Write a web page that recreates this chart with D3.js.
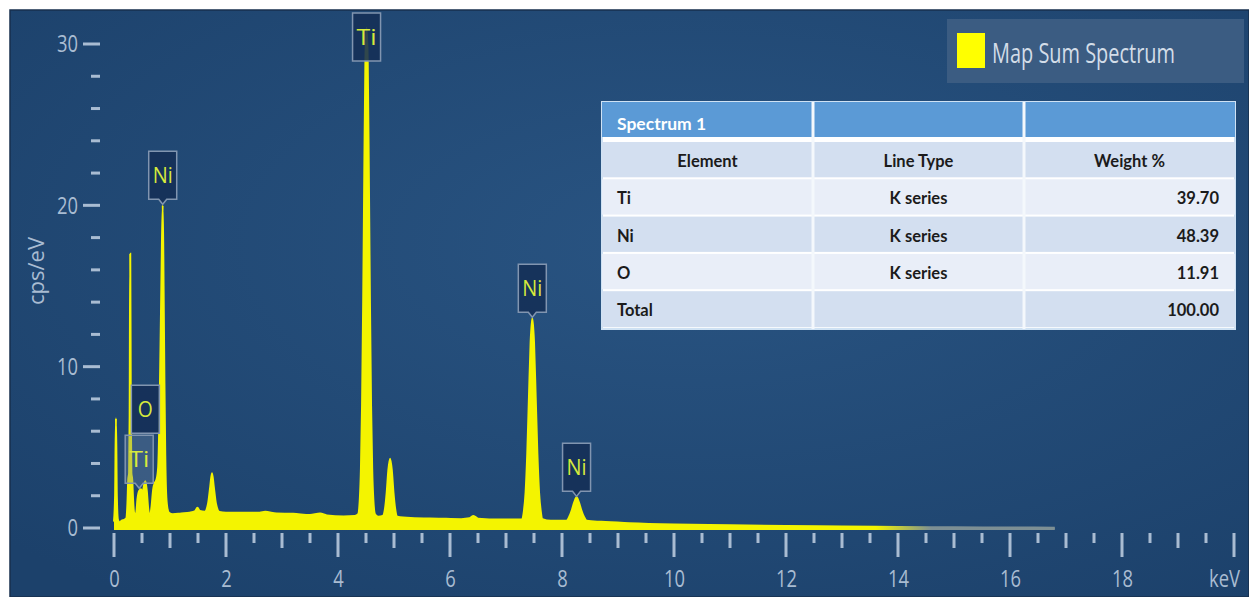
<!DOCTYPE html>
<html><head><meta charset="utf-8">
<script src="https://cdn.jsdelivr.net/npm/d3@7"></script>
<style>html,body{margin:0;padding:0;background:#fff;overflow:hidden}</style>
</head><body><svg id="c" width="1249" height="597"></svg>
<script>
// ---- data ----
const energy = [0.00,0.02,0.035,0.05,0.07,0.10,0.14,0.18,0.22,0.24,0.255,0.27,0.28,0.29,0.30,0.31,0.325,0.34,0.36,0.38,
0.40,0.42,0.45,0.48,0.51,0.54,0.56,0.585,0.61,0.64,0.67,0.70,0.73,0.76,0.79,0.81,0.83,0.85,0.87,0.885,0.90,0.915,0.93,0.95,0.98,
1.05,1.20,1.35,1.45,1.49,1.53,1.62,1.68,1.72,1.75,1.78,1.82,1.88,2.00,2.30,2.60,2.70,2.90,3.20,3.50,3.68,3.80,4.10,4.30,
4.36,4.39,4.41,4.43,4.45,4.47,4.49,4.51,4.53,4.55,4.57,4.59,4.61,4.63,4.66,4.72,
4.80,4.84,4.87,4.90,4.93,4.96,4.99,5.02,5.06,5.30,5.80,6.20,6.35,6.42,6.50,6.90,
7.29,7.32,7.35,7.38,7.41,7.44,7.47,7.50,7.53,7.56,7.59,7.62,7.65,7.80,
8.08,8.13,8.18,8.22,8.26,8.30,8.34,8.39,8.44,8.70,9.20,10.0,11.0,12.0,13.0,14.0,15.0,16.0,16.8];
const counts = [0.4,2.0,6.8,2.0,0.5,0.35,0.45,0.5,0.6,1.5,3.0,3.4,7,17.0,7,3.4,3.0,1.8,0.9,0.8,
1.0,1.8,2.3,2.4,2.2,2.7,2.9,2.3,1.2,0.7,1.3,2.4,2.8,3.0,3.8,6.5,11,16,20.0,15,9,4.5,2.2,1.3,0.95,
0.85,0.9,0.95,1.05,1.25,1.05,1.0,1.5,2.6,3.4,2.6,1.5,1.0,0.95,0.95,0.95,1.0,0.9,0.88,0.8,0.9,0.78,0.72,0.75,
0.85,1.8,3.7,7.6,14,22,29,31.0,29,22,14,7.6,3.7,1.8,0.85,0.7,
0.75,1.2,2.2,3.6,4.3,3.6,2.2,1.2,0.7,0.62,0.58,0.55,0.6,0.75,0.58,0.52,
0.55,1.05,2.2,4.6,8.1,11.5,13.0,11.5,8.1,4.6,2.2,1.05,0.55,0.45,
0.45,0.7,1.15,1.6,1.9,1.6,1.15,0.7,0.45,0.38,0.3,0.22,0.17,0.12,0.09,0.06,0.04,0.03,0.02];
const peakLabels = ["Ti","O","Ni","Ti","Ni","Ni"];
const peakEnergies = [0.45,0.56,0.87,4.51,7.47,8.26];
const xTicks = [0,2,4,6,8,10,12,14,16,18];
const yTicks = [0,10,20,30];
const xUnit = "keV";
const yTitle = "cps/eV";
const legendLabel = "Map Sum Spectrum";
const tableTitle = "Spectrum 1";
const tableColumns = ["Element","Line Type","Weight %"];
const tableElements = ["Ti","Ni","O","Total"];
const tableLineTypes = ["K series","K series","K series",""];
const tableWeights = ["39.70","48.39","11.91","100.00"];

// ---- drawing ----
const W=1249,H=597;
const svg=d3.select("#c");
const defs=svg.append("defs");
const bg=defs.append("radialGradient").attr("id","bg").attr("cx","55%").attr("cy","40%").attr("r","75%");
bg.append("stop").attr("offset","0%").attr("stop-color","#295482");
bg.append("stop").attr("offset","100%").attr("stop-color","#1c416b");
svg.append("rect").attr("width",W).attr("height",H).attr("fill","#fff");
svg.append("rect").attr("x",10).attr("y",10).attr("width",W-10).attr("height",H-10)
  .attr("fill","url(#bg)").attr("stroke","#172f4d").attr("stroke-width",1.5);

const x=d3.scaleLinear().domain([0,20]).range([114,1234]);
const y=d3.scaleLinear().domain([0,30]).range([528,44]);
const tickCol="#a9bcd2";
const fontAx="'Open Sans','Noto Sans',sans-serif";

// x ticks
const xt=d3.range(0,20.001,0.5);
svg.append("g").selectAll("rect").data(xt).join("rect")
  .attr("x",d=>x(d)-1.5).attr("y",533).attr("width",3)
  .attr("height",d=>d%2===0?24:(d%1===0?15:10)).attr("fill",tickCol);
// y ticks
const yt=d3.range(0,30.001,2);
svg.append("g").selectAll("rect").data(yt).join("rect")
  .attr("x",d=>d%10===0?83:91).attr("y",d=>y(d)-1.5)
  .attr("width",d=>d%10===0?17:9).attr("height",3).attr("fill",tickCol);

// axis labels
const gx=svg.append("g").attr("transform","translate(0,570)")
  .call(d3.axisBottom(x).tickValues(xTicks).tickSize(0).tickPadding(0).tickFormat(d3.format("d")));
gx.select(".domain").remove();
gx.selectAll("text").attr("fill",tickCol).style("font-family",fontAx).style("font-size","24px")
  .attr("textLength",d=>String(d).length*10.5).attr("lengthAdjust","spacingAndGlyphs");
const gy=svg.append("g").attr("transform","translate(78,0)")
  .call(d3.axisLeft(y).tickValues(yTicks).tickSize(0).tickPadding(0).tickFormat(d3.format("d")));
gy.select(".domain").remove();
gy.selectAll("text").attr("fill",tickCol).style("font-family",fontAx).style("font-size","24px")
  .attr("textLength",d=>String(d).length*10.5).attr("lengthAdjust","spacingAndGlyphs");
svg.append("text").attr("x",1240).attr("y",587).attr("text-anchor","end").attr("fill",tickCol)
  .style("font-family",fontAx).style("font-size","24px").attr("textLength",31).attr("lengthAdjust","spacingAndGlyphs").text(xUnit);
svg.append("text").attr("transform","translate(44,271) rotate(-90)").attr("text-anchor","middle")
  .attr("fill",tickCol).style("font-family",fontAx).style("font-size","22px")
  .attr("textLength",68).attr("lengthAdjust","spacingAndGlyphs").text(yTitle);

// spectrum
const pts=energy.map((e,i)=>[e,counts[i]]);
const fg=defs.append("linearGradient").attr("id","fade").attr("gradientUnits","userSpaceOnUse")
  .attr("x1",x(13.6)).attr("x2",x(14.6)).attr("y1",0).attr("y2",0);
fg.append("stop").attr("offset","0%").attr("stop-color","#f4f400");
fg.append("stop").attr("offset","100%").attr("stop-color","#7d8f94");
const area=d3.area().x(d=>x(d[0])).y0(y(0)+2).y1(d=>y(d[1])).curve(d3.curveMonotoneX);
const line=d3.line().x(d=>x(d[0])).y(d=>y(d[1])).curve(d3.curveMonotoneX);
svg.append("path").datum(pts).attr("d",area).attr("fill","url(#fade)");
svg.append("path").datum(pts).attr("d",line).attr("fill","none").attr("stroke","url(#fade)").attr("stroke-width",2);

// peak labels
const boxW=28,boxH=48,notch=5;
const order=d3.range(peakLabels.length).sort((a,b)=>peakEnergies[a]-peakEnergies[b]);
const placed=[];
order.forEach(i=>{
  const e=peakEnergies[i];
  const vmax=d3.max(pts.filter(p=>Math.abs(p[0]-e)<=0.031),p=>p[1]);
  const cx=x(e);
  let bottom=y(vmax)-notch-1, hasNotch=true;
  placed.forEach(p=>{ if(Math.abs(p.cx-cx)<boxW && bottom>p.top-2){ bottom=p.top-2; hasNotch=false; p.under=true; } });
  let top=bottom-boxH;
  if(top<13){ top=13; bottom=top+boxH; hasNotch=false; }
  placed.push({cx,top,bottom,hasNotch,lab:peakLabels[i],under:false});
});
const lg=svg.append("g");
placed.forEach(p=>{
  const x0=p.cx-boxW/2,x1=p.cx+boxW/2;
  let d=`M${x0},${p.top}H${x1}V${p.bottom}`;
  if(p.hasNotch) d+=`H${p.cx+4}L${p.cx},${p.bottom+notch}L${p.cx-4},${p.bottom}`;
  d+=`H${x0}Z`;
  lg.append("path").attr("d",d).attr("fill",p.under?"#6f86a6":"#142f56")
    .attr("fill-opacity",p.under?0.35:0.88).attr("stroke","#8195b0").attr("stroke-width",1.5);
  lg.append("text").attr("x",p.cx).attr("y",(p.top+p.bottom)/2+8).attr("text-anchor","middle")
    .attr("fill","#d6ea3c").style("font-family",fontAx).style("font-size","22px")
    .attr("textLength",p.lab.length===1?15:p.lab.length*10).attr("lengthAdjust","spacingAndGlyphs").text(p.lab);
});

// legend
svg.append("rect").attr("x",947).attr("y",19).attr("width",297).attr("height",64).attr("fill","#3b5c82");
svg.append("rect").attr("x",957).attr("y",33).attr("width",28).attr("height",35).attr("fill","#ffff00");
svg.append("text").attr("x",992).attr("y",63).attr("fill","#d3dde8").style("font-family",fontAx)
  .style("font-size","27px").attr("textLength",183).attr("lengthAdjust","spacingAndGlyphs").text(legendLabel);

// table
const tX=602,tW=633,colW=211,tY=102;
const tf="Lato,'Open Sans',sans-serif";
const tg=svg.append("g");
tg.append("rect").attr("x",tX).attr("y",tY).attr("width",tW).attr("height",227).attr("fill","#ffffff").attr("stroke","#cfe2f4").attr("stroke-width",2);
tg.append("rect").attr("x",tX).attr("y",tY).attr("width",tW).attr("height",35).attr("fill","#5b9ad6");
const rowTop=i=>142+i*37.3;
const rowFill=["#d3dff0","#e9eef8","#d3dff0","#e9eef8","#d3dff0"];
d3.range(5).forEach(i=>{
  tg.append("rect").attr("x",tX).attr("y",rowTop(i)).attr("width",tW).attr("height",i===4?36:35.3).attr("fill",rowFill[i]);
});
[1,2].forEach(c=>tg.append("rect").attr("x",tX+c*colW-1.5).attr("y",tY).attr("width",3).attr("height",227).attr("fill","#f4f8fc"));
tg.append("text").attr("x",617).attr("y",130).attr("fill","#ffffff").style("font-family",tf).style("font-weight","bold").style("font-size","17.5px").text(tableTitle);
const txt=(s,xx,yy,anchor)=>tg.append("text").attr("x",xx).attr("y",yy).attr("text-anchor",anchor)
  .attr("fill","#1b1b1b").style("font-family",tf).style("font-weight","bold").style("font-size","16.5px").text(s);
tableColumns.forEach((s,c)=>txt(s,tX+c*colW+colW/2,rowTop(0)+25,"middle"));
tableElements.forEach((s,r)=>{
  const yy=rowTop(r+1)+25;
  txt(s,617,yy,"start");
  txt(tableLineTypes[r],tX+colW*1.5,yy,"middle");
  txt(tableWeights[r],1219,yy,"end");
});
</script></body></html>
